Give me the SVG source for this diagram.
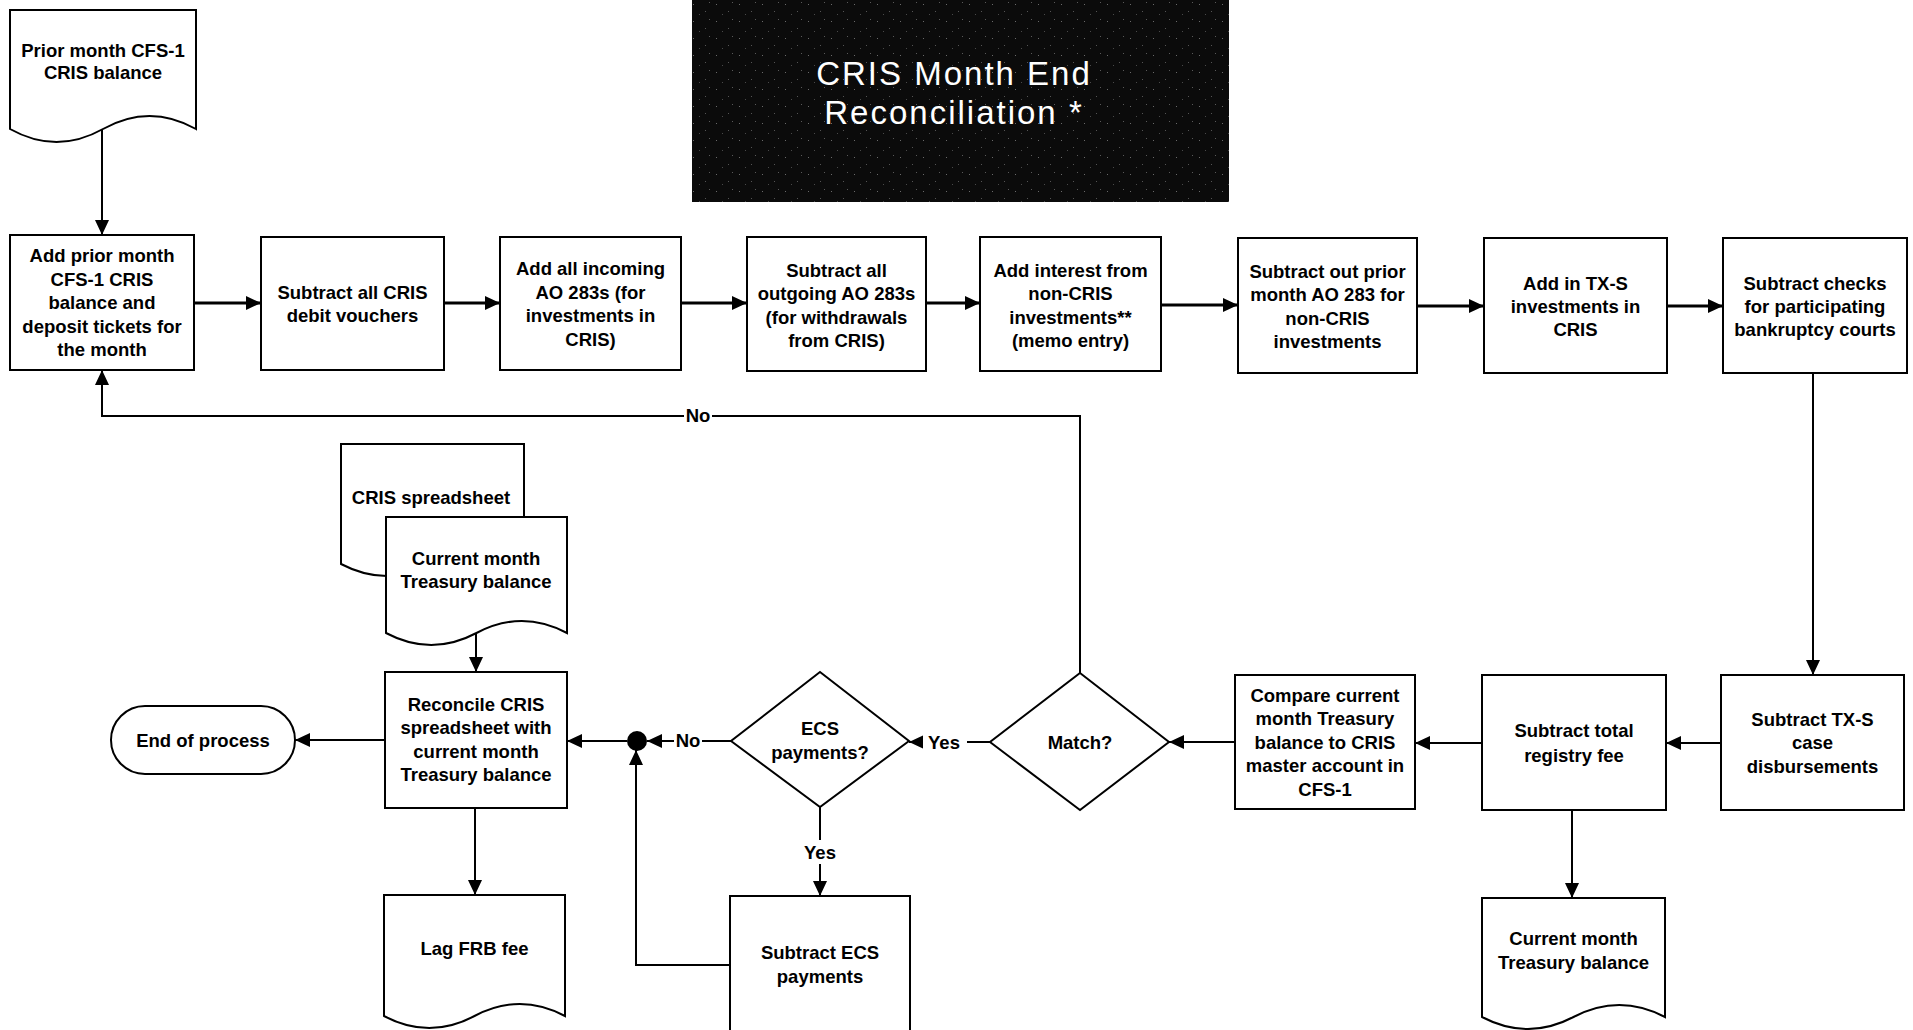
<svg xmlns="http://www.w3.org/2000/svg" width="1913" height="1030" viewBox="0 0 1913 1030">
<defs>
<style>
.shape{fill:#fff;stroke:#000;stroke-width:2}
.t{font-family:"Liberation Sans",Arial,sans-serif;font-size:18.5px;font-weight:bold;fill:#000;text-anchor:middle}
.title{font-family:"Liberation Sans",Arial,sans-serif;font-size:33px;fill:#fff;text-anchor:middle;letter-spacing:2px}
.c{fill:none;stroke:#000;stroke-width:2}
.cb{fill:none;stroke:#000;stroke-width:2.8}
.lbl{fill:#fff;stroke:none}
</style>
<marker id="ah" markerUnits="userSpaceOnUse" markerWidth="15" markerHeight="14" refX="15" refY="7" orient="auto">
<path d="M0,0 L15,7 L0,14 z" fill="#000"/>
</marker>
<pattern id="speckle" patternUnits="userSpaceOnUse" width="23" height="17">
<rect width="23" height="17" fill="#0b0b0b"/>
<rect x="3" y="4" width="1" height="1" fill="#6a6a6a"/>
<rect x="15" y="11" width="1" height="1" fill="#555"/>
<rect x="9" y="14" width="1" height="1" fill="#4a4a4a"/>
<rect x="19" y="2" width="1" height="1" fill="#5a5a5a"/>
</pattern>
</defs>
<rect width="1913" height="1030" fill="#fff"/>

<g id="title">
<rect x="692" y="0" width="537" height="202" fill="url(#speckle)"/>
<text class="title" x="954" y="85">CRIS Month End</text>
<text class="title" x="954" y="124">Reconciliation *</text>
</g>

<g id="connectors">
<path class="c" d="M102,130 V235" marker-end="url(#ah)"/>
<path class="cb" d="M194,303 H261" marker-end="url(#ah)"/>
<path class="cb" d="M444,303 H500" marker-end="url(#ah)"/>
<path class="cb" d="M681,303 H747" marker-end="url(#ah)"/>
<path class="cb" d="M926,303 H980" marker-end="url(#ah)"/>
<path class="cb" d="M1161,305 H1238" marker-end="url(#ah)"/>
<path class="cb" d="M1417,306 H1484" marker-end="url(#ah)"/>
<path class="cb" d="M1667,306 H1723" marker-end="url(#ah)"/>
<path class="c" d="M1813,373 V675" marker-end="url(#ah)"/>
<path class="c" d="M1721,743 H1666" marker-end="url(#ah)"/>
<path class="c" d="M1482,743 H1415" marker-end="url(#ah)"/>
<path class="c" d="M1235,742 H1169" marker-end="url(#ah)"/>
<path class="c" d="M990,742 H909" marker-end="url(#ah)"/>
<path class="c" d="M1080,673 V416 H102 V370" marker-end="url(#ah)"/>
<path class="c" d="M820,807 V896" marker-end="url(#ah)"/>
<path class="c" d="M731,741 H647" marker-end="url(#ah)"/>
<path class="c" d="M730,965 H636 V750" marker-end="url(#ah)"/>
<path class="c" d="M627,741 H567" marker-end="url(#ah)"/>
<path class="c" d="M476,634 V672" marker-end="url(#ah)"/>
<path class="c" d="M385,740 H295" marker-end="url(#ah)"/>
<path class="c" d="M475,808 V895" marker-end="url(#ah)"/>
<path class="c" d="M1572,810 V898" marker-end="url(#ah)"/>
<rect class="lbl" x="684" y="406" width="28" height="20"/>
<text class="t" x="698" y="422">No</text>
<rect class="lbl" x="923" y="732" width="44" height="20"/>
<text class="t" x="944" y="748.5">Yes</text>
<rect class="lbl" x="800" y="840" width="40" height="24"/>
<text class="t" x="820" y="858.5">Yes</text>
<rect class="lbl" x="674" y="731" width="28" height="20"/>
<text class="t" x="688" y="747">No</text>
<circle cx="637" cy="741" r="10" fill="#000"/>
</g>

<g id="prior-doc">
<path class="shape" d="M10,10 H196 V129 Q149.5,103 103,129 T10,129 Z"/>
<text class="t" x="103" y="56.5">Prior month CFS-1</text>
<text class="t" x="103" y="78.5">CRIS balance</text>
</g>

<g id="box1">
<rect class="shape" x="10" y="235" width="184" height="135"/>
<text class="t" x="102" y="262">Add prior month</text>
<text class="t" x="102" y="285.5">CFS-1 CRIS</text>
<text class="t" x="102" y="309">balance and</text>
<text class="t" x="102" y="332.5">deposit tickets for</text>
<text class="t" x="102" y="356">the month</text>
</g>

<g id="box2">
<rect class="shape" x="261" y="237" width="183" height="133"/>
<text class="t" x="352.5" y="298.5">Subtract all CRIS</text>
<text class="t" x="352.5" y="322">debit vouchers</text>
</g>

<g id="box3">
<rect class="shape" x="500" y="237" width="181" height="133"/>
<text class="t" x="590.5" y="275">Add all incoming</text>
<text class="t" x="590.5" y="298.5">AO 283s (for</text>
<text class="t" x="590.5" y="322">investments in</text>
<text class="t" x="590.5" y="345.5">CRIS)</text>
</g>

<g id="box4">
<rect class="shape" x="747" y="237" width="179" height="134"/>
<text class="t" x="836.5" y="276.5">Subtract all</text>
<text class="t" x="836.5" y="300">outgoing AO 283s</text>
<text class="t" x="836.5" y="323.5">(for withdrawals</text>
<text class="t" x="836.5" y="347">from CRIS)</text>
</g>

<g id="box5">
<rect class="shape" x="980" y="237" width="181" height="134"/>
<text class="t" x="1070.5" y="276.5">Add interest from</text>
<text class="t" x="1070.5" y="300">non-CRIS</text>
<text class="t" x="1070.5" y="323.5">investments**</text>
<text class="t" x="1070.5" y="347">(memo entry)</text>
</g>

<g id="box6">
<rect class="shape" x="1238" y="238" width="179" height="135"/>
<text class="t" x="1327.5" y="277.5">Subtract out prior</text>
<text class="t" x="1327.5" y="301">month AO 283 for</text>
<text class="t" x="1327.5" y="324.5">non-CRIS</text>
<text class="t" x="1327.5" y="348">investments</text>
</g>

<g id="box7">
<rect class="shape" x="1484" y="238" width="183" height="135"/>
<text class="t" x="1575.5" y="289.5">Add in TX-S</text>
<text class="t" x="1575.5" y="312.5">investments in</text>
<text class="t" x="1575.5" y="335.5">CRIS</text>
</g>

<g id="box8">
<rect class="shape" x="1723" y="238" width="184" height="135"/>
<text class="t" x="1815" y="289.5">Subtract checks</text>
<text class="t" x="1815" y="312.5">for participating</text>
<text class="t" x="1815" y="335.5">bankruptcy courts</text>
</g>

<g id="txs-case">
<rect class="shape" x="1721" y="675" width="183" height="135"/>
<text class="t" x="1812.5" y="725.5">Subtract TX-S</text>
<text class="t" x="1812.5" y="749">case</text>
<text class="t" x="1812.5" y="772.5">disbursements</text>
</g>

<g id="registry-fee">
<rect class="shape" x="1482" y="675" width="184" height="135"/>
<text class="t" x="1574" y="737">Subtract total</text>
<text class="t" x="1574" y="761.5">registry fee</text>
</g>

<g id="treasury-doc-right">
<path class="shape" d="M1482,898 H1665 V1017 Q1619.25,993 1573.5,1017 T1482,1017 Z"/>
<text class="t" x="1573.5" y="944.5">Current month</text>
<text class="t" x="1573.5" y="968.5">Treasury balance</text>
</g>

<g id="compare">
<rect class="shape" x="1235" y="675" width="180" height="134"/>
<text class="t" x="1325" y="701.5">Compare current</text>
<text class="t" x="1325" y="725">month Treasury</text>
<text class="t" x="1325" y="748.5">balance to CRIS</text>
<text class="t" x="1325" y="772">master account in</text>
<text class="t" x="1325" y="795.5">CFS-1</text>
</g>

<g id="match">
<path class="shape" d="M1080,673 L1169,742 L1080,810 L990,742 Z"/>
<text class="t" x="1080" y="748.5">Match?</text>
</g>

<g id="ecs-decision">
<path class="shape" d="M820,672 L909,741 L820,807 L731,741 Z"/>
<text class="t" x="820" y="734.5">ECS</text>
<text class="t" x="820" y="759">payments?</text>
</g>

<g id="subtract-ecs">
<rect class="shape" x="730" y="896" width="180" height="140"/>
<text class="t" x="820" y="958.5">Subtract ECS</text>
<text class="t" x="820" y="983">payments</text>
</g>

<g id="spreadsheet-doc">
<path class="shape" d="M341,444 H524 V564 Q478.25,540 432.5,564 T341,564 Z"/>
<text class="t" x="431" y="503.5">CRIS spreadsheet</text>
</g>

<g id="treasury-doc-left">
<path class="shape" d="M386,517 H567 V633 Q521.75,609 476.5,633 T386,633 Z"/>
<text class="t" x="476" y="564.5">Current month</text>
<text class="t" x="476" y="587.5">Treasury balance</text>
</g>

<g id="reconcile">
<rect class="shape" x="385" y="672" width="182" height="136"/>
<text class="t" x="476" y="710.5">Reconcile CRIS</text>
<text class="t" x="476" y="734">spreadsheet with</text>
<text class="t" x="476" y="757.5">current month</text>
<text class="t" x="476" y="781">Treasury balance</text>
</g>

<g id="end">
<rect class="shape" x="111" y="706" width="184" height="68" rx="34" ry="34"/>
<text class="t" x="203" y="746.5">End of process</text>
</g>

<g id="lag-frb">
<path class="shape" d="M384,895 H565 V1016 Q519.75,992 474.5,1016 T384,1016 Z"/>
<text class="t" x="474.5" y="954.5">Lag FRB fee</text>
</g>
</svg>
